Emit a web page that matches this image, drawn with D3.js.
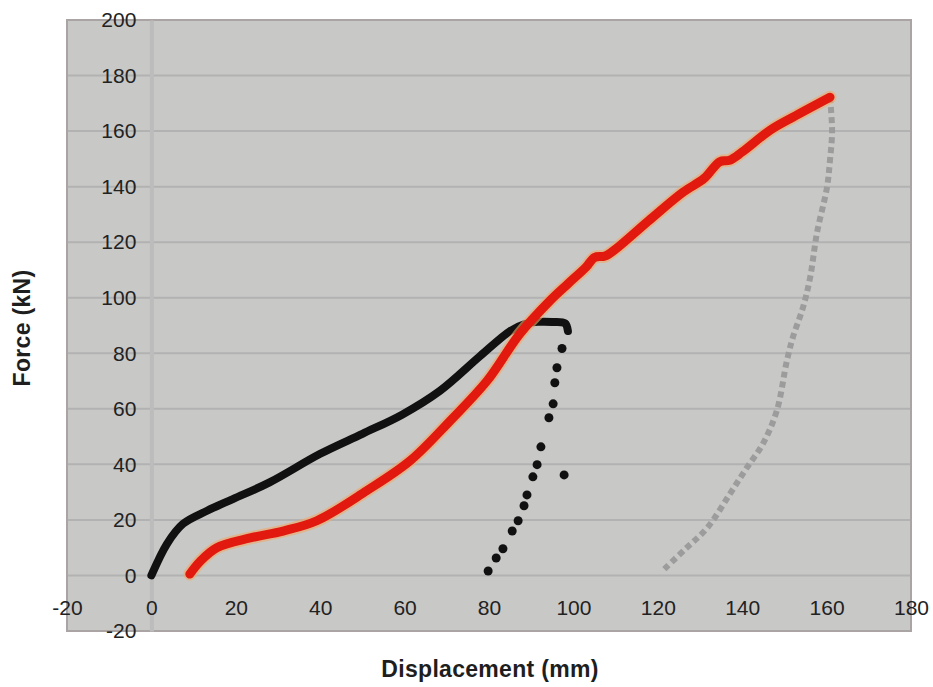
<!DOCTYPE html>
<html>
<head>
<meta charset="utf-8">
<script src="https://cdn.jsdelivr.net/npm/d3@7"></script>
<style>
	body { margin: 0; background: #fff; }
	svg { display: block; }
	.tick text { font-family: "Liberation Sans", Arial, sans-serif; font-size: 21px; fill: #222; }
	.title { font-family: "Liberation Sans", Arial, sans-serif; font-size: 23px; font-weight: bold; fill: #1e1e1e; letter-spacing: 0.3px; }
</style>
</head>
<body>
<div id="chart"></div>
<script>
'use strict';

// tick labels of both axes
var xTicks = [-20, 0, 20, 40, 60, 80, 100, 120, 140, 160, 180];
var yTicks = [-20, 0, 20, 40, 60, 80, 100, 120, 140, 160, 180, 200];

// black specimen, loading branch (mm, kN)
var blackDisp = [0, 3.7, 7.5, 13.2, 19.3, 28, 40, 50, 59.4, 68.4, 77.9, 85, 88.5, 91.5, 95, 98, 98.7];
var blackForce = [0, 11.4, 18.6, 23.3, 27.5, 33.5, 43.8, 51, 57.9, 66.5, 79, 88, 90.5, 91.3, 91.3, 90.8, 88];

// black specimen, unloading points
var blackUnloadDisp = [97.3, 96.1, 95.6, 95.2, 94.2, 92.3, 91.4, 90.4, 89.0, 88.3, 86.9, 85.5, 83.3, 81.7, 79.8, 97.8];
var blackUnloadForce = [81.7, 74.8, 69.4, 61.8, 56.8, 46.3, 39.9, 35.5, 29.0, 25.1, 19.7, 16.0, 9.6, 6.3, 1.6, 36.2];

// red specimen, loading branch
var redDisp = [9.1, 11.5, 15.5, 23.4, 31.2, 39.2, 51, 61.3, 70.8, 79.5, 87.3, 94.5, 98.7, 103, 105, 107.5, 110, 117.9, 126, 131, 134.7, 137, 140, 146.6, 152, 160.8];
var redForce = [0.5, 5, 10, 13.5, 16, 19.7, 30.5, 41.3, 55.7, 70, 87, 99, 105, 111, 114.5, 115, 117.5, 127.8, 138, 143, 149, 149.5, 152.5, 160.3, 165, 172.2];

// red specimen, unloading branch (grey)
var greyDisp = [160.8, 161.3, 160.8, 160.1, 157.7, 156.1, 154.4, 152, 150.6, 148.2, 144.9, 141.1, 137.1, 131.7, 126.5, 121];
var greyForce = [172.2, 160, 149.5, 139.8, 123.2, 107.3, 96.5, 85.7, 77.4, 59.3, 47.4, 38.8, 29.4, 17.1, 9.5, 1.5];

var width = 933, height = 687;

var svg = d3.select('#chart').append('svg')
	.attr('width', width)
	.attr('height', height);

var x = d3.scaleLinear().domain([-20, 180]).range([67, 911]);
var y = d3.scaleLinear().domain([-20, 200]).range([631, 20]);

// plain hyphen for negatives, like the original
var fmt = function (d) { return String(d); };

// helper: zip two arrays into points
function zip(xs, ys) {
	return xs.map(function (v, i) { return [v, ys[i]]; });
}

// plot area background
svg.append('rect')
	.attr('x', x(-20)).attr('y', y(200))
	.attr('width', x(180) - x(-20)).attr('height', y(-20) - y(200))
	.attr('fill', '#c8c8c7');

// horizontal grid lines
svg.append('g').selectAll('line')
	.data(yTicks)
	.join('line')
	.attr('x1', x(-20)).attr('x2', x(180))
	.attr('y1', function (d) { return y(d); })
	.attr('y2', function (d) { return y(d); })
	.attr('stroke', '#b2b2b2')
	.attr('stroke-width', 2);

// plot area border
svg.append('rect')
	.attr('x', x(-20)).attr('y', y(200))
	.attr('width', x(180) - x(-20)).attr('height', y(-20) - y(200))
	.attr('fill', 'none')
	.attr('stroke', '#aba4a4')
	.attr('stroke-width', 2);

// y axis sits on x = 0
var yAxis = svg.append('g')
	.attr('transform', 'translate(' + x(0) + ',0)')
	.call(d3.axisLeft(y).tickValues(yTicks).tickFormat(fmt).tickSize(0).tickPadding(15));
yAxis.select('.domain').attr('stroke', '#bcbcbc').attr('stroke-width', 4);

// x axis sits on y = 0
var xAxis = svg.append('g')
	.attr('transform', 'translate(0,' + y(0) + ')')
	.call(d3.axisBottom(x).tickValues(xTicks).tickFormat(fmt).tickSize(0).tickPadding(25));
xAxis.select('.domain').remove();

var line = d3.line()
	.x(function (d) { return x(d[0]); })
	.y(function (d) { return y(d[1]); })
	.curve(d3.curveCatmullRom);

// grey unloading curve
svg.append('path')
	.datum(zip(greyDisp, greyForce))
	.attr('d', line)
	.attr('fill', 'none')
	.attr('stroke', '#9c9c9c')
	.attr('stroke-width', 6)
	.attr('stroke-dasharray', '6,4');

// black loading curve
svg.append('path')
	.datum(zip(blackDisp, blackForce))
	.attr('d', line)
	.attr('fill', 'none')
	.attr('stroke', '#111')
	.attr('stroke-width', 8)
	.attr('stroke-linecap', 'round')
	.attr('stroke-linejoin', 'round');

// black unloading dots
svg.append('g').selectAll('circle')
	.data(zip(blackUnloadDisp, blackUnloadForce))
	.join('circle')
	.attr('cx', function (d) { return x(d[0]); })
	.attr('cy', function (d) { return y(d[1]); })
	.attr('r', 4.5)
	.attr('fill', '#111');

// red loading curve, with a soft halo like the printed original
var redPts = zip(redDisp, redForce);
svg.append('path')
	.datum(redPts)
	.attr('d', line)
	.attr('fill', 'none')
	.attr('stroke', '#f0a868')
	.attr('stroke-opacity', 0.6)
	.attr('stroke-width', 13)
	.attr('stroke-linecap', 'round');
svg.append('path')
	.datum(redPts)
	.attr('d', line)
	.attr('fill', 'none')
	.attr('stroke', '#e2190f')
	.attr('stroke-width', 9)
	.attr('stroke-linecap', 'round')
	.attr('stroke-linejoin', 'round');

// axis titles
svg.append('text')
	.attr('class', 'title')
	.attr('transform', 'translate(30,328) rotate(-90)')
	.attr('text-anchor', 'middle')
	.text('Force (kN)');

svg.append('text')
	.attr('class', 'title')
	.attr('x', 490).attr('y', 677)
	.attr('text-anchor', 'middle')
	.text('Displacement (mm)');
</script>
</body>
</html>
